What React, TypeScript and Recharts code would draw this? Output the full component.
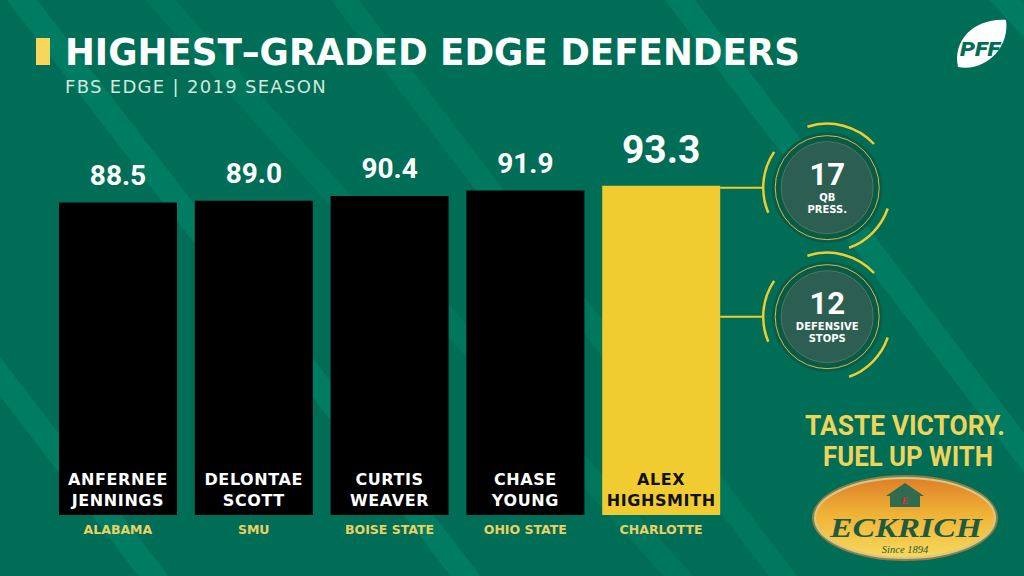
import React from 'react';
import { BarChart, Bar, XAxis, YAxis, Cell, LabelList } from 'recharts';

const firstNames = ['ANFERNEE', 'DELONTAE', 'CURTIS', 'CHASE', 'ALEX'];
const lastNames = ['JENNINGS', 'SCOTT', 'WEAVER', 'YOUNG', 'HIGHSMITH'];
const schools = ['ALABAMA', 'SMU', 'BOISE STATE', 'OHIO STATE', 'CHARLOTTE'];
const grades = [88.5, 89.0, 90.4, 91.9, 93.3];
const statValues = ['17', '12'];
const statLines = [['QB', 'PRESS.'], ['DEFENSIVE', 'STOPS']];
const highlightIndex = 4;

const data = schools.map((s, i) => ({
  school: s,
  first: firstNames[i],
  last: lastNames[i],
  grade: grades[i],
}));

const BG = '#006e56';
const STRIPE = '#007c63';
const YELLOW = '#f0cc30';
const SCHOOL_YELLOW = '#ecd062';
const LABEL_FONT = '"DejaVu Sans", sans-serif';
const NUM_FONT = 'Roboto, sans-serif';

const arcPath = (cx: number, cy: number, r: number, a0: number, a1: number) => {
  const p = (a: number) => [cx + r * Math.cos((a * Math.PI) / 180), cy - r * Math.sin((a * Math.PI) / 180)];
  const [x0, y0] = p(a0);
  const [x1, y1] = p(a1);
  return `M${x0},${y0} A${r},${r} 0 0 0 ${x1},${y1}`;
};

const StatBadge = ({ cx, cy, value, lines }: { cx: number; cy: number; value: string; lines: string[] }) => (
  <g>
    {[[43, 108], [146, 203], [-70, -19]].map(([a, b], k) => (
      <path key={k} d={arcPath(cx, cy, 64, a, b)} fill="none" stroke={YELLOW} strokeWidth={2.5} />
    ))}
    <circle cx={cx} cy={cy} r={55} fill="#0a5a44" />
    <circle cx={cx} cy={cy} r={52} fill="none" stroke="#c9bd5c" strokeWidth={1} />
    <circle cx={cx} cy={cy} r={46} fill="#2c5f51" stroke="#477a62" strokeWidth={1} />
    <text x={cx} y={cy - 3} textAnchor="middle" fill="#ffffff" fontFamily={NUM_FONT} fontWeight={700} fontSize={31}>
      {value}
    </text>
    {lines.map((l, k) => (
      <text
        key={k}
        x={cx}
        y={cy + 13 + k * 12.5}
        textAnchor="middle"
        fill="#ffffff"
        fontFamily={LABEL_FONT}
        fontWeight={700}
        fontSize={10}
      >
        {l}
      </text>
    ))}
  </g>
);

const ValueLabel = (props: any) => {
  const { x, y, width, value, index } = props;
  const big = index === highlightIndex;
  return (
    <text
      x={x + width / 2}
      y={y - (big ? 23 : 18)}
      textAnchor="middle"
      fill="#ffffff"
      fontFamily={NUM_FONT}
      fontWeight={700}
      fontSize={big ? 39 : 28}
    >
      {Number(value).toFixed(1)}
    </text>
  );
};

const NameLabel = (props: any) => {
  const { x, y, width, height, index } = props;
  const color = index === highlightIndex ? '#111111' : '#ffffff';
  const bottom = y + height;
  const cx = x + width / 2;
  const els: any[] = [
    <text key="f" x={cx} y={bottom - 30} textAnchor="middle" fill={color} fontFamily={LABEL_FONT} fontWeight={700} fontSize={16} letterSpacing={0.6}>
      {firstNames[index]}
    </text>,
    <text key="l" x={cx} y={bottom - 9} textAnchor="middle" fill={color} fontFamily={LABEL_FONT} fontWeight={700} fontSize={16} letterSpacing={0.6}>
      {lastNames[index]}
    </text>,
  ];
  if (index === highlightIndex) {
    const badgeX = x + width + 107;
    const ys = [y + 2, y + 131];
    ys.forEach((by, k) => {
      els.push(
        <line key={'ln' + k} x1={x + width} y1={by} x2={badgeX - 64} y2={by} stroke={YELLOW} strokeWidth={2} />
      );
      els.push(<StatBadge key={'b' + k} cx={badgeX} cy={by} value={statValues[k]} lines={statLines[k]} />);
    });
  }
  return <g>{els}</g>;
};

const SchoolTick = (props: any) => {
  const { x, y, payload } = props;
  return (
    <text x={x} y={y + 11} textAnchor="middle" fill={SCHOOL_YELLOW} fontFamily={LABEL_FONT} fontWeight={700} fontSize={12.5}>
      {payload.value}
    </text>
  );
};

const stripe = (x0: number, k: number, w: number) => {
  const h = 576;
  return `${x0 - w / 2},0 ${x0 + w / 2},0 ${x0 + w / 2 + k * h},${h} ${x0 - w / 2 + k * h},${h}`;
};

const Background = () => (
  <svg width={1024} height={576} style={{ position: 'absolute', left: 0, top: 0 }}>
    <defs>
      <linearGradient id="eck" x1="0" y1="0" x2="0" y2="1">
        <stop offset="0" stopColor="#de7f28" />
        <stop offset="0.45" stopColor="#efb236" />
        <stop offset="1" stopColor="#f6da5c" />
      </linearGradient>
    </defs>
    <rect x={0} y={0} width={1024} height={576} fill={BG} />
    <polygon points={stripe(22, 0.77, 30)} fill={STRIPE} />
    <polygon points={stripe(345, 0.76, 28)} fill={STRIPE} opacity={0.7} />
    <polygon points={stripe(680, 0.76, 30)} fill={STRIPE} />
    <polygon points={stripe(-290, 0.77, 30)} fill={STRIPE} />
    <polygon points={stripe(1005, 0.9, 30)} fill={STRIPE} />
    <polygon points={stripe(160, 0.9, 30)} fill={STRIPE} opacity={0.6} />

    {/* title */}
    <rect x={36} y={38} width={14} height={27} fill="#f7d65c" />
    <text x={65} y={65} fill="#ffffff" fontFamily={LABEL_FONT} fontWeight={700} fontSize={37} textLength={735} lengthAdjust="spacingAndGlyphs">
      HIGHEST–GRADED EDGE DEFENDERS
    </text>
    <text x={65} y={93} fill="#d4e6dd" fontFamily={LABEL_FONT} fontSize={18} letterSpacing={1.3}>
      FBS EDGE | 2019 SEASON
    </text>

    {/* PFF logo */}
    <path d="M958,67 C952,40 975,18 1006,20 C1010,48 985,72 958,67 Z" fill="#ffffff" />
    <text x={960} y={56} fill={BG} fontFamily={NUM_FONT} fontWeight={900} fontStyle="italic" fontSize={20} textLength={40} lengthAdjust="spacingAndGlyphs">
      PFF
    </text>

    {/* sponsor */}
    <text x={805} y={435} fill="#f0d45a" fontFamily={NUM_FONT} fontWeight={700} fontSize={27} textLength={200} lengthAdjust="spacingAndGlyphs">
      TASTE VICTORY.
    </text>
    <text x={823} y={466} fill="#f0d45a" fontFamily={NUM_FONT} fontWeight={700} fontSize={27} textLength={170} lengthAdjust="spacingAndGlyphs">
      FUEL UP WITH
    </text>
    <ellipse cx={905} cy={518} rx={93} ry={43} fill="#8f7f45" />
    <ellipse cx={905} cy={518} rx={90} ry={40} fill="url(#eck)" stroke="#d8c78a" strokeWidth={2} />
    <polygon points="886,496 905,483 924,496 920,496 920,507 890,507 890,496" fill="#2f6b4e" />
    <text x={905} y={504} textAnchor="middle" fill="#d9302a" fontFamily='"Liberation Serif", serif' fontWeight={700} fontStyle="italic" fontSize={11}>
      E
    </text>
    <text x={906} y={537} textAnchor="middle" fill="#1f5a3e" fontFamily='"Liberation Serif", serif' fontWeight={700} fontStyle="italic" fontSize={28} textLength={152} lengthAdjust="spacingAndGlyphs">
      ECKRICH
    </text>
    <text x={905} y={553} textAnchor="middle" fill="#1f5a3e" fontFamily='"Liberation Serif", serif' fontStyle="italic" fontSize={10.5}>
      Since 1894
    </text>
  </svg>
);

export default function App() {
  return (
    <div style={{ position: 'relative', width: 1024, height: 576, overflow: 'hidden', background: BG }}>
      <style>{'body{margin:0}'}</style>
      <Background />
      <div style={{ position: 'absolute', left: 0, top: 0 }}>
        <BarChart width={1024} height={576} data={data} margin={{ top: 162, right: 295, bottom: 31, left: 50 }}>
          <XAxis dataKey="school" height={30} axisLine={false} tickLine={false} interval={0} tick={<SchoolTick />} />
          <YAxis hide domain={[0, 100]} />
          <Bar dataKey="grade" barSize={118} isAnimationActive={false}>
            {data.map((d, i) => (
              <Cell key={d.school} fill={i === highlightIndex ? YELLOW : '#000000'} />
            ))}
            <LabelList dataKey="grade" content={<ValueLabel />} />
            <LabelList dataKey="grade" content={<NameLabel />} />
          </Bar>
        </BarChart>
      </div>
    </div>
  );
}
